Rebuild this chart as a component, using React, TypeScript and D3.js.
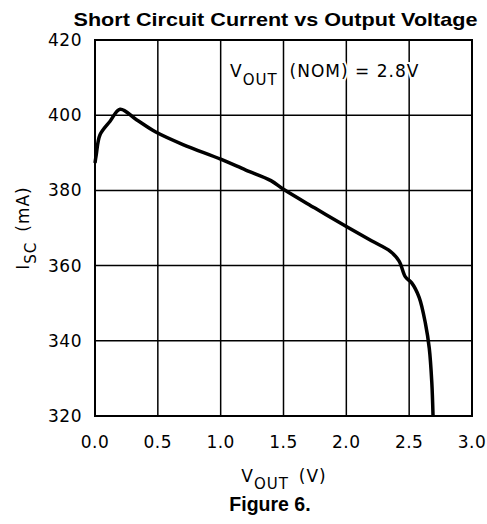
import React from "react";
import * as d3 from "d3";

const vout = [0.0, 0.01, 0.04, 0.12, 0.2, 0.33, 0.48, 0.7, 1.0, 1.2, 1.4, 1.5, 1.75, 2.0, 2.2, 2.35, 2.42, 2.47, 2.52, 2.58, 2.63, 2.66, 2.68, 2.69];
const isc = [387.3, 389.5, 394.8, 398.4, 401.6, 398.8, 395.6, 392.2, 388.3, 385.4, 382.6, 380.3, 375.3, 370.4, 366.6, 363.8, 361.2, 357.0, 355.4, 351.5, 344.5, 338.0, 329.0, 320.0];
const xTicks = [0.0, 0.5, 1.0, 1.5, 2.0, 2.5, 3.0];
const yTicks = [320, 340, 360, 380, 400, 420];

const W = 487, H = 524;
const L = 95, R = 472, T = 40, B = 416;

export default function App() {
  const x = d3.scaleLinear().domain([0, 3]).range([L, R]);
  const y = d3.scaleLinear().domain([320, 420]).range([B, T]);
  const pts = vout.map((v, i) => [v, isc[i]] as [number, number]);
  const line = d3.line<[number, number]>().x(d => x(d[0])).y(d => y(d[1])).curve(d3.curveCatmullRom.alpha(0.5));
  const tickFont = "DejaVu Sans, sans-serif";
  const boldFont = "Liberation Sans, Arial, sans-serif";
  return (
    <svg width={W} height={H} style={{ position: "absolute", left: 0, top: 0, background: "#fff" }}>
      <text x={275.5} y={26} textAnchor="middle" fontFamily={boldFont} fontWeight="bold" fontSize={19} textLength={404} lengthAdjust="spacingAndGlyphs">Short Circuit Current vs Output Voltage</text>
      {xTicks.map(t => (
        <line key={"gx" + t} x1={x(t)} x2={x(t)} y1={T} y2={B} stroke="#000" strokeWidth={1.5} />
      ))}
      {yTicks.map(t => (
        <line key={"gy" + t} x1={L} x2={R} y1={y(t)} y2={y(t)} stroke="#000" strokeWidth={1.5} />
      ))}
      <rect x={L} y={T} width={R - L} height={B - T} fill="none" stroke="#000" strokeWidth={2} />
      <text x={230} y={77} fontFamily={tickFont} fontSize={17} letterSpacing={1} fill="#000" stroke="#fff" strokeWidth={4} style={{ paintOrder: "stroke" } as any}>
        V<tspan fontSize={15} dy={8}>OUT</tspan><tspan dy={-8} dx={12}>(NOM) = 2.8V</tspan>
      </text>
      <path d={line(pts) || ""} fill="none" stroke="#000" strokeWidth={3.5} strokeLinejoin="round" />
      {yTicks.map(t => (
        <text key={"yl" + t} x={L - 13} y={y(t) + 6} textAnchor="end" fontFamily={tickFont} fontSize={17} letterSpacing={0.5}>{t}</text>
      ))}
      {xTicks.map(t => (
        <text key={"xl" + t} x={x(t)} y={448} textAnchor="middle" fontFamily={tickFont} fontSize={17} letterSpacing={0.5}>{t.toFixed(1)}</text>
      ))}
      <text transform={`translate(29,${(T + B) / 2}) rotate(-90)`} textAnchor="middle" fontFamily={tickFont} fontSize={17} letterSpacing={1}>
        I<tspan fontSize={15} dy={7}>SC</tspan><tspan dy={-7} dx={10}>(mA)</tspan>
      </text>
      <text x={284} y={482} textAnchor="middle" fontFamily={tickFont} fontSize={17} letterSpacing={1}>
        V<tspan fontSize={15} dy={7}>OUT</tspan><tspan dy={-7} dx={10}>(V)</tspan>
      </text>
      <text x={270} y={511} textAnchor="middle" fontFamily={boldFont} fontWeight="bold" fontSize={19.5}>Figure 6.</text>
    </svg>
  );
}
